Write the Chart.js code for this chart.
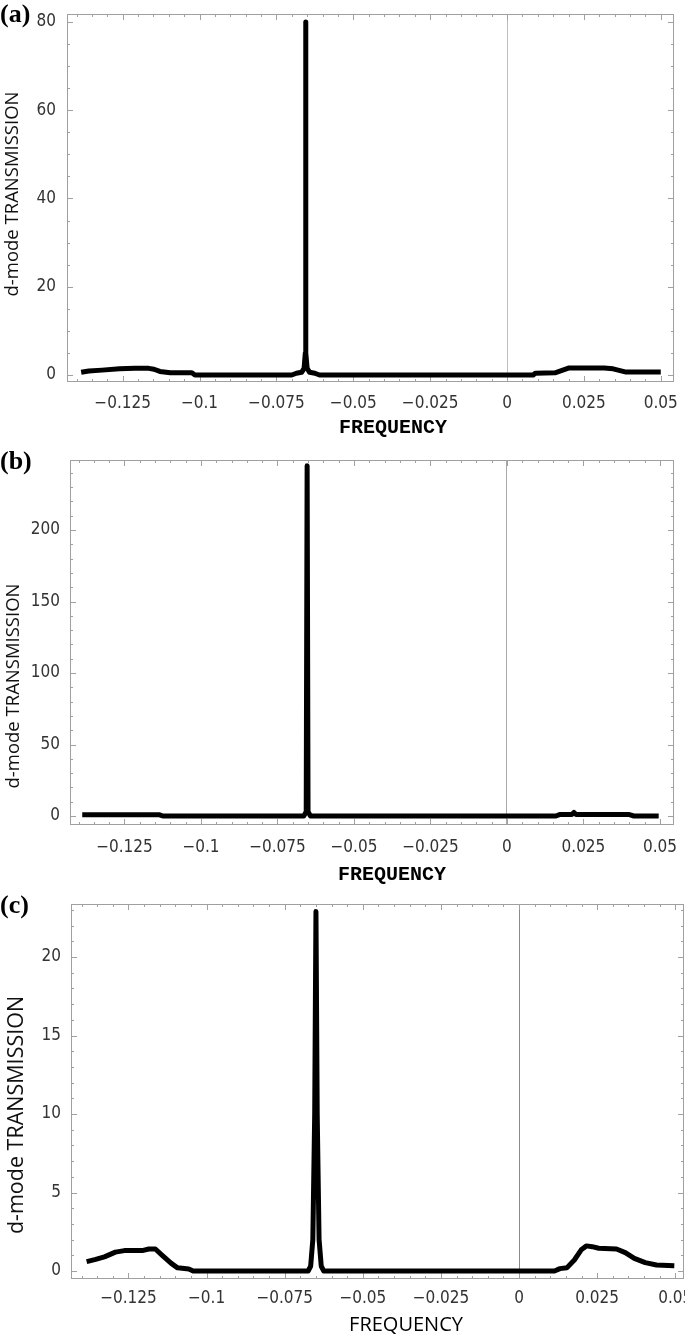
<!DOCTYPE html>
<html><head><meta charset="utf-8">
<script src="https://cdn.jsdelivr.net/npm/chart.js@4.4.1/dist/chart.umd.min.js"></script>
<style>
html,body{margin:0;padding:0;background:#fff;}
body{width:685px;height:1336px;position:relative;overflow:hidden;}
canvas{position:absolute;left:0;}
.lbl{position:absolute;left:0;font:bold 26px "Liberation Serif","Times New Roman",serif;color:#000;line-height:1;}
</style></head><body>
<canvas id="ca" width="685" height="450" style="top:0px"></canvas>
<canvas id="cb" width="685" height="445" style="top:450px"></canvas>
<canvas id="cc" width="685" height="441" style="top:895px"></canvas>
<div class="lbl" style="top:1px">(a)</div>
<div class="lbl" style="top:448px">(b)</div>
<div class="lbl" style="top:892px">(c)</div>
<script>
// ---------- data ----------
const freqA  = [-0.1385,-0.136,-0.1317,-0.126,-0.121,-0.1165,-0.1148,-0.1129,-0.1095,-0.1025,-0.1015,-0.0700,-0.0685,-0.0668,-0.0660,-0.0656,-0.0655,-0.0654,-0.0650,-0.0642,-0.0625,-0.0610,0.0085,0.0092,0.0156,0.0202,0.0316,0.0345,0.0384,0.0500];
const transA = [0.6,0.9,1.1,1.4,1.5,1.5,1.3,0.8,0.5,0.5,0.0,0.0,0.4,0.6,1.5,5,80,5,1.5,0.6,0.4,0.0,0.0,0.4,0.5,1.6,1.6,1.4,0.7,0.7];

const freqB  = [-0.1388,-0.1135,-0.1125,-0.0664,-0.0656,-0.0653,-0.0650,-0.0642,0.0160,0.0172,0.0212,0.0219,0.0226,0.0400,0.0415,0.0496];
const transB = [0.8,0.8,0.0,0.0,3,245,3,0.0,0.0,1.0,1.0,2.5,1.0,1.0,0.0,0.0];

const freqC  = [-0.1384,-0.1355,-0.1327,-0.1292,-0.1263,-0.1206,-0.1185,-0.1164,-0.1142,-0.1114,-0.1093,-0.1057,-0.1043,-0.0675,-0.0667,-0.0660,-0.0654,-0.0650,-0.0646,-0.0640,-0.0633,-0.0625,0.01135,0.0131,0.0153,0.0177,0.0199,0.0216,0.0234,0.0255,0.0312,0.034,0.0369,0.0404,0.044,0.0497];
const transC = [0.6,0.74,0.9,1.2,1.3,1.3,1.4,1.4,1.0,0.5,0.2,0.13,0.0,0.0,0.3,2,10,22.9,10,2,0.3,0.0,0.0,0.15,0.2,0.7,1.35,1.6,1.55,1.45,1.4,1.17,0.8,0.53,0.38,0.34];

const xTickValues = [-0.125,-0.1,-0.075,-0.05,-0.025,0,0.025,0.05];
const xTickLabels = ['\u22120.125','\u22120.1','\u22120.075','\u22120.05','\u22120.025','0','0.025','0.05'];
const yTickValuesA = [0,20,40,60,80];
const yTickLabelsA = ['0','20','40','60','80'];
const yTickValuesB = [0,50,100,150,200];
const yTickLabelsB = ['0','50','100','150','200'];
const yTickValuesC = [0,5,10,15,20];
const yTickLabelsC = ['0','5','10','15','20'];
const xTitleText = 'FREQUENCY';
const yTitleText = 'd-mode TRANSMISSION';

// ---------- plugins ----------
const framePlugin = {
  id:'frame',
  beforeDatasetsDraw(chart, args, o){
    const {ctx, chartArea:a, scales:{x, y}} = chart;
    ctx.save();
    ctx.strokeStyle = o.color; ctx.lineWidth = 1;
    ctx.strokeRect(a.left+0.5, a.top+0.5, a.right-a.left-1, a.bottom-a.top-1);
    ctx.beginPath();
    const kx0 = Math.ceil(x.min/o.xMinor - 1e-9), kx1 = Math.floor(x.max/o.xMinor + 1e-9);
    for (let k=kx0; k<=kx1; k++){
      const px = Math.round(x.getPixelForValue(k*o.xMinor)) + 0.5;
      const len = (Math.abs(k) % o.xEvery === 0) ? o.major : o.minor;
      ctx.moveTo(px, a.bottom); ctx.lineTo(px, a.bottom-len);
      ctx.moveTo(px, a.top); ctx.lineTo(px, a.top+len);
    }
    const ky0 = Math.ceil(y.min/o.yMinor - 1e-9), ky1 = Math.floor(y.max/o.yMinor + 1e-9);
    for (let k=ky0; k<=ky1; k++){
      const py = Math.round(y.getPixelForValue(k*o.yMinor)) + 0.5;
      const len = (Math.abs(k) % o.yEvery === 0) ? o.major : o.minor;
      ctx.moveTo(a.left, py); ctx.lineTo(a.left+len, py);
      ctx.moveTo(a.right, py); ctx.lineTo(a.right-len, py);
    }
    ctx.stroke();
    ctx.restore();
  }
};
const titlesPlugin = {
  id:'titles',
  afterDraw(chart, args, o){
    const ctx = chart.ctx;
    o.items.forEach(t=>{
      ctx.save();
      ctx.translate(t.x, t.y);
      if (t.rot) ctx.rotate(t.rot);
      ctx.font = t.font; ctx.fillStyle = t.color || '#111';
      ctx.textAlign = 'center'; ctx.textBaseline = 'middle';
      ctx.fillText(t.text, 0, 0);
      ctx.restore();
    });
  }
};

const tickFont = {family:"'DejaVu Sans Condensed','Liberation Sans Narrow',sans-serif", size:17};

function makeChart(id, freq, trans, yVals, yLabs, L){
  const cBottom = L.top + L.height;
  return new Chart(document.getElementById(id), {
    type:'line',
    data:{datasets:[{
      data: freq.map((f,i)=>({x:f, y:trans[i]})),
      borderColor:'#000', borderWidth:L.lw, pointRadius:0, tension:0, fill:false,
      borderJoinStyle:'round', borderCapStyle:'butt'
    }]},
    options:{
      responsive:false, animation:false, events:[],
      layout:{padding:{top:L.area.t-L.top, right:685-L.area.r, left:0, bottom:0}},
      plugins:{
        legend:{display:false}, tooltip:{enabled:false},
        frame:{color:'#a0a0a0', xMinor:0.005, xEvery:5, yMinor:L.yMinor, yEvery:L.yEvery, major:6, minor:3},
        titles:{items:[
          {text:yTitleText, x:L.yTitleX, y:L.yTitleCY - L.top, rot:-Math.PI/2, font:L.yTitleFont, color:'#111'},
          {text:xTitleText, x:L.xTitleX, y:L.xTitleY - L.top, font:L.xTitleFont, color:'#000'}
        ]}
      },
      scales:{
        x:{
          type:'linear', min:L.xmin, max:L.xmax,
          afterBuildTicks:s=>{ s.ticks = xTickValues.map(v=>({value:v})); },
          afterFit:s=>{ s.height = cBottom - L.area.b; s.paddingLeft = 0; s.paddingRight = 0; },
          ticks:{autoSkip:false, maxRotation:0, minRotation:0, padding:L.xPad, color:'#333', font:tickFont,
                 callback:(v,i)=>xTickLabels[i]},
          grid:{drawTicks:false, lineWidth:1, color:c=>(c.tick && c.tick.value===0) ? L.zeroColor : 'rgba(0,0,0,0)'},
          border:{display:false}
        },
        y:{
          type:'linear', min:L.ymin, max:L.ymax,
          afterBuildTicks:s=>{ s.ticks = yVals.map(v=>({value:v})); },
          afterFit:s=>{ s.width = L.area.l; s.paddingTop = 0; s.paddingBottom = 0; },
          ticks:{autoSkip:false, padding:L.yPad, color:'#333', font:tickFont, callback:(v,i)=>yLabs[i]},
          grid:{display:false, drawTicks:false}, border:{display:false}
        }
      }
    },
    plugins:[framePlugin, titlesPlugin]
  });
}

const monoTitle = "bold 20px 'Liberation Mono','Courier New',monospace";
const sansTitle = "20px 'Open Sans',sans-serif";

makeChart('ca', freqA, transA, yTickValuesA, yTickLabelsA, {
  top:0, height:450, area:{l:67, r:674, t:14, b:382},
  xmin:-0.1431, xmax:0.0543, ymin:-1.59, ymax:81.8,
  yMinor:5, yEvery:4, xPad:11, yPad:11, lw:5,
  xTitleFont:monoTitle, xTitleX:393, xTitleY:428,
  yTitleFont:"18.5px 'Open Sans', sans-serif", yTitleX:13, yTitleCY:194, zeroColor:'#bdbdbd'
});
makeChart('cb', freqB, transB, yTickValuesB, yTickLabelsB, {
  top:450, height:445, area:{l:70, r:674, t:460, b:825},
  xmin:-0.1428, xmax:0.0546, ymin:-6.3, ymax:249,
  yMinor:10, yEvery:5, xPad:12, yPad:10, lw:5,
  xTitleFont:monoTitle, xTitleX:392, xTitleY:875,
  yTitleFont:"18.5px 'Open Sans', sans-serif", yTitleX:14, yTitleCY:686, zeroColor:'#a8a8a8'
});
makeChart('cc', freqC, transC, yTickValuesC, yTickLabelsC, {
  top:895, height:441, area:{l:71, r:684, t:904, b:1279},
  xmin:-0.1434, xmax:0.0528, ymin:-0.51, ymax:23.38,
  yMinor:1, yEvery:5, xPad:9, yPad:10, lw:5,
  xTitleFont:sansTitle, xTitleX:406, xTitleY:1325,
  yTitleFont:"21.5px 'Open Sans', sans-serif", yTitleX:17, yTitleCY:1115, zeroColor:'#8a8a8a'
});
</script>
</body></html>
